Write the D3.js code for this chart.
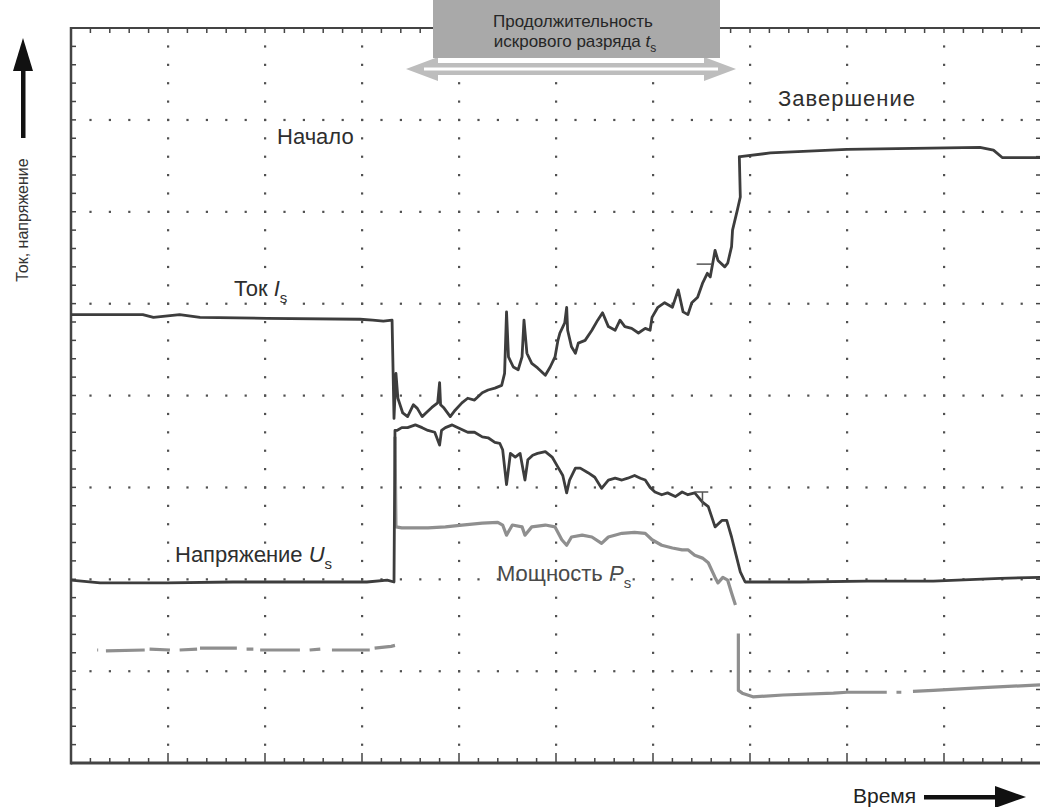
<!DOCTYPE html>
<meta charset="utf-8">
<style>
  body { margin: 0; background: #fff; }
  text { font-family: "Liberation Sans", Arial, sans-serif; }
</style>

<!-- Load d3.js -->
<script src="https://d3js.org/d3.v7.min.js"></script>

<!-- Create a div where the graph will take place -->
<div id="my_dataviz"></div>

<script>

  // screen divisions of the oscilloscope
  var xDivisions = 10;
  var yDivisions = 8;
  var minorPerDiv = 5;

  // traces: [time (div), level (div)], null = gap in the trace
  var current = [
    [0, 4.88], [0.74, 4.88], [0.85, 4.85], [1.12, 4.88], [1.33, 4.85], [2.02, 4.84], [2.98, 4.83],
    [3.11, 4.82], [3.22, 4.81], [3.31, 4.82], [3.33, 3.75], [3.35, 4.24], [3.37, 3.97], [3.42, 3.81],
    [3.47, 3.77], [3.53, 3.90], [3.57, 3.86], [3.62, 3.77], [3.67, 3.82], [3.72, 3.87], [3.78, 3.92],
    [3.80, 4.14], [3.81, 3.90], [3.84, 3.87], [3.91, 3.77], [3.96, 3.84], [4.03, 3.92], [4.09, 3.97],
    [4.16, 3.95], [4.24, 4.03], [4.30, 4.06], [4.37, 4.08], [4.44, 4.11], [4.47, 4.24], [4.49, 4.91],
    [4.51, 4.42], [4.56, 4.31], [4.61, 4.28], [4.65, 4.42], [4.67, 4.82], [4.70, 4.46], [4.75, 4.35],
    [4.81, 4.30], [4.89, 4.22], [4.94, 4.31], [4.99, 4.42], [5.02, 4.60], [5.04, 4.68], [5.09, 4.79],
    [5.11, 4.96], [5.12, 4.71], [5.16, 4.53], [5.20, 4.46], [5.23, 4.57], [5.30, 4.60], [5.37, 4.71],
    [5.43, 4.82], [5.48, 4.90], [5.54, 4.75], [5.61, 4.71], [5.66, 4.82], [5.71, 4.75], [5.78, 4.73],
    [5.85, 4.68], [5.92, 4.73], [5.97, 4.71], [5.99, 4.85], [6.05, 4.96], [6.12, 5.01], [6.20, 4.96],
    [6.26, 5.15], [6.31, 4.91], [6.36, 4.88], [6.40, 5.01], [6.46, 5.07], [6.51, 5.22], [6.56, 5.33],
    [6.59, 5.29], [6.64, 5.58], [6.67, 5.47], [6.74, 5.40], [6.77, 5.44], [6.81, 5.62], [6.82, 5.80],
    [6.87, 6.02], [6.90, 6.16], [6.89, 6.60], [6.90, 6.60], [7.21, 6.64], [8.00, 6.68], [9.37, 6.70],
    [9.51, 6.67], [9.60, 6.59], [9.99, 6.59]
  ];

  var voltage = [
    [0, 1.99], [0.30, 1.96], [0.99, 1.96], [1.67, 1.97], [2.36, 1.97], [3.05, 1.97], [3.26, 1.99],
    [3.33, 1.97], [3.34, 3.62], [3.36, 3.62], [3.41, 3.65], [3.47, 3.65], [3.55, 3.68], [3.62, 3.65],
    [3.68, 3.62], [3.75, 3.60], [3.80, 3.46], [3.82, 3.62], [3.86, 3.65], [3.93, 3.68], [3.99, 3.65],
    [4.09, 3.60], [4.16, 3.60], [4.24, 3.55], [4.30, 3.54], [4.37, 3.49], [4.42, 3.48], [4.45, 3.41],
    [4.49, 3.03], [4.53, 3.37], [4.58, 3.33], [4.63, 3.37], [4.68, 3.08], [4.71, 3.30], [4.76, 3.35],
    [4.81, 3.37], [4.89, 3.39], [4.96, 3.33], [5.02, 3.22], [5.07, 3.13], [5.11, 2.94], [5.14, 3.08],
    [5.20, 3.21], [5.25, 3.21], [5.33, 3.16], [5.40, 3.11], [5.47, 2.99], [5.54, 3.08], [5.61, 3.10],
    [5.68, 3.08], [5.74, 3.10], [5.81, 3.13], [5.87, 3.10], [5.92, 3.08], [5.97, 3.00], [6.02, 2.95],
    [6.09, 2.92], [6.15, 2.94], [6.23, 2.90], [6.30, 2.95], [6.36, 2.92], [6.43, 2.94], [6.51, 2.84],
    [6.57, 2.79], [6.64, 2.57], [6.71, 2.64], [6.76, 2.64], [6.81, 2.46], [6.85, 2.29], [6.90, 2.08],
    [6.95, 1.97], [7.52, 1.97], [8.21, 1.98], [8.89, 1.98], [9.58, 2.01], [9.99, 2.02]
  ];

  var power = [
    [0.27, 1.23], [0.28, 1.23], null, [0.36, 1.22], [0.76, 1.23], null, [0.81, 1.24], [1.02, 1.23], null,
    [1.12, 1.23], [1.30, 1.24], null, [1.33, 1.25], [1.71, 1.25], null, [1.81, 1.24], [1.88, 1.24], null,
    [1.95, 1.23], [2.36, 1.23], null, [2.46, 1.23], [2.57, 1.24], null, [2.69, 1.23], [3.08, 1.23], null,
    [3.13, 1.25], [3.30, 1.27], [3.34, 1.28], null,
    [3.34, 3.55], [3.35, 2.57], [3.41, 2.56], [3.55, 2.56], [3.68, 2.56], [3.86, 2.57], [4.03, 2.59],
    [4.24, 2.61], [4.40, 2.62], [4.45, 2.59], [4.49, 2.48], [4.55, 2.59], [4.65, 2.57], [4.68, 2.48],
    [4.75, 2.57], [4.89, 2.59], [4.99, 2.57], [5.06, 2.43], [5.11, 2.37], [5.16, 2.46], [5.27, 2.48],
    [5.37, 2.46], [5.47, 2.39], [5.54, 2.46], [5.68, 2.50], [5.81, 2.51], [5.92, 2.50], [5.99, 2.43],
    [6.09, 2.37], [6.20, 2.34], [6.30, 2.32], [6.36, 2.32], [6.43, 2.26], [6.51, 2.23], [6.57, 2.18],
    [6.64, 2.02], [6.67, 1.96], [6.72, 2.02], [6.77, 1.99], [6.81, 1.85], [6.85, 1.72], null,
    [6.88, 1.41], [6.88, 0.79], [6.92, 0.76], [7.03, 0.72], [7.34, 0.74], [7.86, 0.76], [8.00, 0.77],
    [8.41, 0.77], null, [8.51, 0.77], [8.56, 0.77], null, [8.68, 0.78], [8.89, 0.79], [9.40, 0.82],
    [9.99, 0.85]
  ];

  // small cursor marks on the traces
  var currentMark = [[6.45, 5.43], [6.61, 5.43]];
  var voltageMark = [[6.43, 2.95], [6.57, 2.95], null, [6.51, 2.95], [6.51, 2.79]];

  // dimensions of the screen area
  var width = 1040, height = 807;
  var frame = {left: 71, right: 1041, top: 28, bottom: 763};

  var svg = d3.select("#my_dataviz")
    .append("svg")
      .attr("width", width)
      .attr("height", height);

  var x = d3.scaleLinear().domain([0, xDivisions]).range([frame.left, frame.right]);
  var y = d3.scaleLinear().domain([0, yDivisions]).range([frame.bottom, frame.top]);

  var minorX = d3.range(0, xDivisions * minorPerDiv + 1).map(function(i) { return i / minorPerDiv; });
  var minorY = d3.range(0, yDivisions * minorPerDiv + 1).map(function(i) { return i / minorPerDiv; });
  var majorX = d3.range(1, xDivisions);
  var majorY = d3.range(1, yDivisions);

  // dotted graticule: a dot at every minor step along each major line
  var grid = svg.append("g").attr("fill", "#505050");
  majorX.forEach(function(mx) {
    grid.selectAll(null)
      .data(minorY.filter(function(v) { return v > 0 && v < yDivisions; }))
      .enter().append("rect")
        .attr("x", x(mx) - 1).attr("y", function(d) { return y(d) - 1; })
        .attr("width", 2.2).attr("height", 2.2);
  });
  majorY.forEach(function(my) {
    grid.selectAll(null)
      .data(minorX.filter(function(v) { return v > 0 && v < xDivisions; }))
      .enter().append("rect")
        .attr("x", function(d) { return x(d) - 1; }).attr("y", y(my) - 1)
        .attr("width", 2.2).attr("height", 2.2);
  });

  // frame and its tick marks
  var border = svg.append("g").attr("stroke", "#444");
  border.append("line").attr("x1", x(0)).attr("x2", x(xDivisions)).attr("y1", y(yDivisions)).attr("y2", y(yDivisions)).attr("stroke-width", 2);
  border.append("line").attr("x1", x(0)).attr("x2", x(xDivisions)).attr("y1", y(0)).attr("y2", y(0)).attr("stroke-width", 3);
  border.append("line").attr("x1", x(0)).attr("x2", x(0)).attr("y1", y(0) + 1.5).attr("y2", y(yDivisions) - 1).attr("stroke-width", 2.5);
  border.append("line").attr("x1", x(xDivisions)).attr("x2", x(xDivisions)).attr("y1", y(0)).attr("y2", y(yDivisions)).attr("stroke-width", 2);

  border.selectAll(null).data(minorX).enter().append("line")
    .attr("x1", function(d) { return x(d); }).attr("x2", function(d) { return x(d); })
    .attr("y1", y(yDivisions)).attr("y2", y(yDivisions) + 5).attr("stroke-width", 1.5);
  border.selectAll(null).data(minorX).enter().append("line")
    .attr("x1", function(d) { return x(d); }).attr("x2", function(d) { return x(d); })
    .attr("y1", y(0)).attr("y2", function(d) { return y(0) - (d % 1 === 0 ? 10 : 5); }).attr("stroke-width", 1.5);
  border.selectAll(null).data(minorY).enter().append("line")
    .attr("x1", x(0)).attr("x2", x(0) + 5)
    .attr("y1", function(d) { return y(d); }).attr("y2", function(d) { return y(d); }).attr("stroke-width", 1.5);
  border.selectAll(null).data(minorY).enter().append("line")
    .attr("x1", x(xDivisions)).attr("x2", x(xDivisions) - 5)
    .attr("y1", function(d) { return y(d); }).attr("y2", function(d) { return y(d); }).attr("stroke-width", 1.5);

  // traces
  var line = d3.line()
    .defined(function(d) { return d !== null; })
    .x(function(d) { return x(d[0]); })
    .y(function(d) { return y(d[1]); });

  var traces = svg.append("g").attr("fill", "none").attr("stroke-linejoin", "round");
  traces.append("path").datum(power).attr("d", line).attr("stroke", "#8f8f8f").attr("stroke-width", 3.2);
  traces.append("path").datum(voltage).attr("d", line).attr("stroke", "#3d3d3d").attr("stroke-width", 2.8);
  traces.append("path").datum(current).attr("d", line).attr("stroke", "#3d3d3d").attr("stroke-width", 2.8);
  traces.append("path").datum(currentMark).attr("d", line).attr("stroke", "#555").attr("stroke-width", 1.5);
  traces.append("path").datum(voltageMark).attr("d", line).attr("stroke", "#555").attr("stroke-width", 1.5);

  // trace labels
  var labels = svg.append("g").attr("fill", "#2e2e2e").attr("font-size", 22);

  labels.append("text").attr("x", 277).attr("y", 144).text("Начало");
  labels.append("text").attr("x", 778).attr("y", 106).attr("textLength", 137).text("Завершение");

  var tok = labels.append("text").attr("x", 234).attr("y", 296);
  tok.append("tspan").text("Ток ");
  tok.append("tspan").attr("font-style", "italic").text("I");
  tok.append("tspan").attr("dy", 7).attr("font-size", 15).text("s");

  var nap = labels.append("text").attr("x", 175).attr("y", 562);
  nap.append("tspan").text("Напряжение ");
  nap.append("tspan").attr("font-style", "italic").text("U");
  nap.append("tspan").attr("dy", 7).attr("font-size", 15).text("s");

  var mosh = labels.append("text").attr("x", 497).attr("y", 581).attr("fill", "#4a4a4a");
  mosh.append("tspan").text("Мощность ");
  mosh.append("tspan").attr("font-style", "italic").text("P");
  mosh.append("tspan").attr("dy", 7).attr("font-size", 15).text("s");

  // spark duration banner with double arrow
  var banner = svg.append("g");
  banner.append("path")
    .attr("d", "M406,69 L438,57 L438,63 L704,63 L704,57 L736,69 L704,81 L704,75 L438,75 L438,81 Z")
    .attr("fill", "#bdbdbd");
  banner.append("line").attr("x1", 424).attr("x2", 718).attr("y1", 69).attr("y2", 69)
    .attr("stroke", "#fff").attr("stroke-width", 3);
  banner.append("rect").attr("x", 433).attr("y", 0).attr("width", 287).attr("height", 58).attr("fill", "#a9a9a9");

  var bText = banner.append("g").attr("fill", "#262626").attr("font-size", 17).attr("text-anchor", "middle");
  bText.append("text").attr("x", 573).attr("y", 27).text("Продолжительность");
  var t2 = bText.append("text").attr("x", 575).attr("y", 47);
  t2.append("tspan").text("искрового разряда ");
  t2.append("tspan").attr("font-style", "italic").text("t");
  t2.append("tspan").attr("dy", 5).attr("font-size", 12).text("s");

  // axis captions with arrows
  svg.append("text")
    .attr("transform", "translate(28,220) rotate(-90)")
    .attr("text-anchor", "middle")
    .attr("font-size", 16)
    .attr("fill", "#333")
    .text("Ток, напряжение");
  svg.append("rect").attr("x", 21).attr("y", 66).attr("width", 4.5).attr("height", 72).attr("fill", "#111");
  svg.append("path").attr("d", "M23,38 L33,71 L13,71 Z").attr("fill", "#111");

  svg.append("text")
    .attr("x", 853).attr("y", 803)
    .attr("font-size", 21)
    .attr("fill", "#222")
    .text("Время");
  svg.append("rect").attr("x", 924).attr("y", 795).attr("width", 75).attr("height", 4.5).attr("fill", "#111");
  svg.append("path").attr("d", "M1026,797 L995,786 L995,808 Z").attr("fill", "#111");

</script>
